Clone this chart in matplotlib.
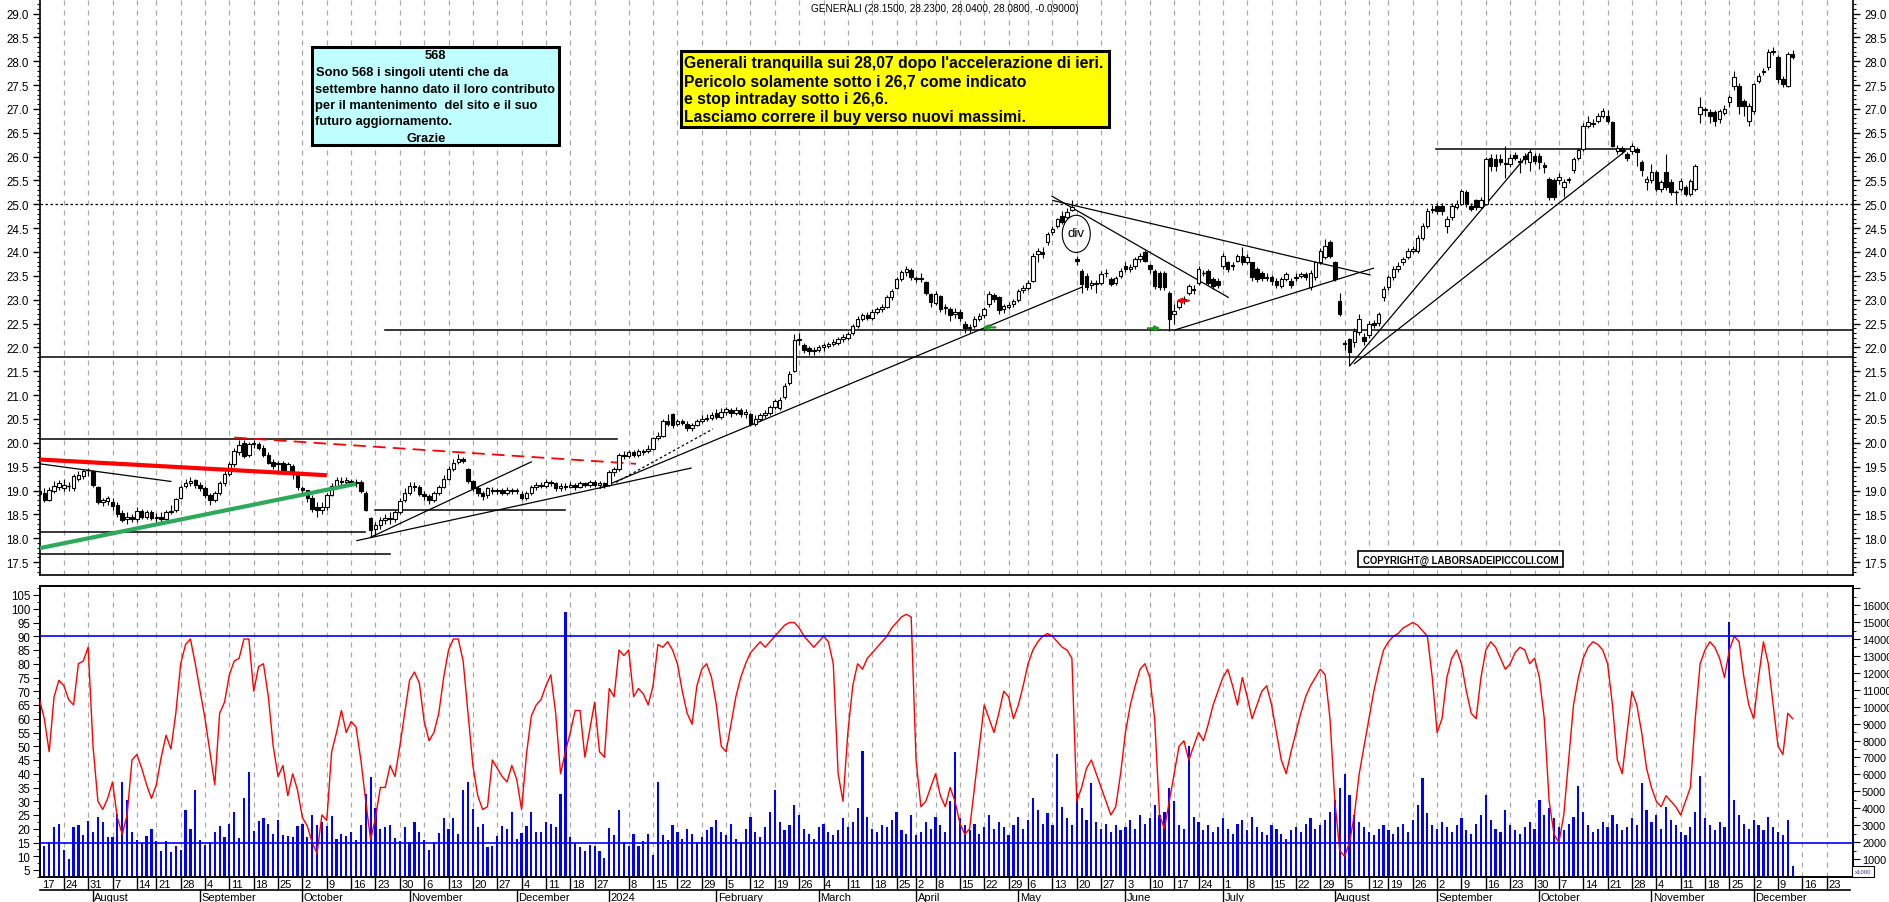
import numpy as np
import pandas as pd
import matplotlib
matplotlib.use("Agg")
import matplotlib.pyplot as plt
from matplotlib.patches import Rectangle, Ellipse
from matplotlib.transforms import blended_transform_factory
from matplotlib.ticker import MultipleLocator, FuncFormatter

plt.rcParams['font.family'] = ['Liberation Sans', 'DejaVu Sans']

# ---------------- data ----------------
holidays = ["2023-08-15", "2023-12-25", "2023-12-26", "2024-01-01", "2024-03-29",
            "2024-04-01", "2024-05-01", "2024-08-15"]
future_holidays = ["2024-12-24", "2024-12-25", "2024-12-26", "2024-12-31"]

opens = [
 19.00,18.95,18.80,19.00,19.08,19.05,19.10,19.05,19.25,19.30,
 19.42,19.40,19.07,18.75,18.78,18.75,18.70,18.52,18.40,18.45,
 18.40,18.58,18.45,18.55,18.42,18.45,18.40,18.55,18.60,18.85,
 19.10,19.15,19.22,19.12,19.05,18.90,18.80,18.95,19.15,19.35,
 19.55,19.80,20.00,19.75,19.98,19.98,19.90,19.75,19.60,19.55,
 19.58,19.40,19.52,19.35,19.05,19.00,18.85,18.65,18.60,18.65,
 18.90,19.10,19.20,19.18,19.20,19.15,19.18,18.95,18.42,18.20,
 18.28,18.38,18.42,18.40,18.55,18.80,18.95,19.10,19.08,18.92,
 18.88,18.80,18.95,19.08,19.25,19.45,19.60,19.65,19.45,19.20,
 19.05,18.95,18.90,19.02,18.98,19.00,18.95,19.02,18.98,18.92,
 18.85,18.95,19.08,19.12,19.10,19.18,19.15,19.05,19.10,19.08,
 19.12,19.08,19.15,19.12,19.18,19.12,19.15,19.12,19.38,19.45,
 19.75,19.72,19.80,19.75,19.82,19.82,19.88,20.10,20.15,20.45,
 20.60,20.40,20.45,20.40,20.30,20.38,20.45,20.50,20.52,20.62,
 20.55,20.65,20.68,20.62,20.68,20.60,20.60,20.40,20.50,20.58,
 20.62,20.75,20.72,20.95,21.25,21.50,22.15,22.05,21.98,21.92,
 21.95,22.00,22.02,22.08,22.10,22.18,22.20,22.30,22.45,22.60,
 22.68,22.62,22.75,22.80,22.85,23.05,23.25,23.43,23.58,23.62,
 23.45,23.43,23.38,23.12,22.94,23.08,22.82,22.80,22.70,22.75,
 22.50,22.40,22.45,22.60,22.68,22.90,23.10,23.05,22.80,22.85,
 22.90,23.00,23.20,23.25,23.40,23.95,24.00,24.20,24.42,24.55,
 24.76,24.73,24.88,23.85,23.61,23.50,23.30,23.33,23.36,23.55,
 23.43,23.35,23.50,23.71,23.64,23.71,23.85,23.99,23.72,23.61,
 23.57,23.57,23.15,22.70,22.85,22.98,23.15,23.20,23.36,23.57,
 23.61,23.43,23.40,23.71,23.78,23.70,23.82,23.92,23.80,23.78,
 23.64,23.55,23.45,23.47,23.40,23.29,23.43,23.40,23.45,23.50,
 23.54,23.26,23.47,23.78,23.89,24.20,23.78,22.98,22.10,22.18,
 22.11,22.32,22.21,22.25,22.52,22.52,23.05,23.26,23.47,23.64,
 23.78,23.89,24.03,24.03,24.30,24.55,24.88,24.97,24.97,24.55,
 24.73,24.95,25.01,25.25,24.97,25.08,24.95,25.01,25.98,25.95,
 25.95,25.86,25.84,26.03,25.88,26.02,25.88,26.02,26.02,25.82,
 25.53,25.50,25.50,25.36,25.50,25.71,25.98,26.16,26.65,26.68,
 26.75,26.86,26.86,26.72,26.12,26.19,26.05,26.12,26.16,25.89,
 25.46,25.50,25.67,25.32,25.67,25.47,25.25,25.32,25.36,25.22,
 25.32,26.89,26.98,26.94,26.93,26.79,26.92,27.14,27.49,27.49,
 27.17,26.75,26.96,27.59,27.77,27.87,28.19,28.08,27.63,27.49,
 28.15]

closes = [
 18.92,18.80,19.02,19.10,19.15,19.12,19.10,19.30,19.32,19.40,
 19.42,19.12,18.75,18.80,18.85,18.68,18.50,18.38,18.45,18.40,
 18.58,18.45,18.55,18.42,18.45,18.40,18.55,18.58,18.82,19.07,
 19.15,19.20,19.12,19.05,18.90,18.80,18.95,19.15,19.35,19.55,
 19.82,19.95,19.72,19.98,20.00,19.90,19.75,19.58,19.52,19.58,
 19.38,19.55,19.35,19.07,19.02,18.85,18.62,18.60,18.65,18.90,
 19.10,19.22,19.18,19.22,19.15,19.18,18.98,18.60,18.18,18.28,
 18.38,18.42,18.40,18.55,18.78,18.95,19.10,19.08,18.92,18.88,
 18.80,18.95,19.08,19.25,19.45,19.58,19.65,19.62,19.20,19.05,
 18.95,18.88,19.05,18.98,19.00,18.95,19.02,18.98,19.00,18.85,
 18.95,19.08,19.12,19.10,19.18,19.15,19.05,19.10,19.08,19.12,
 19.08,19.15,19.12,19.18,19.12,19.15,19.10,19.38,19.45,19.75,
 19.72,19.80,19.75,19.82,19.80,19.88,20.10,20.15,20.45,20.40,
 20.38,20.45,20.42,20.30,20.38,20.45,20.50,20.52,20.58,20.55,
 20.65,20.70,20.62,20.68,20.60,20.65,20.40,20.50,20.58,20.62,
 20.75,20.88,20.90,21.20,21.45,22.15,22.18,21.95,21.92,21.95,
 22.00,22.05,22.08,22.12,22.18,22.22,22.28,22.45,22.60,22.68,
 22.62,22.75,22.80,22.85,23.05,23.18,23.43,23.58,23.64,23.47,
 23.43,23.45,23.15,22.95,23.12,22.80,22.84,22.68,22.75,22.62,
 22.40,22.42,22.60,22.66,22.80,23.12,23.02,22.78,22.87,22.88,
 22.98,23.19,23.25,23.36,23.92,24.02,23.95,24.38,24.48,24.69,
 24.62,24.83,24.94,23.82,23.33,23.26,23.36,23.36,23.54,23.57,
 23.33,23.45,23.61,23.64,23.68,23.85,23.92,23.82,23.64,23.29,
 23.26,23.26,22.60,22.77,22.98,23.01,23.29,23.22,23.64,23.57,
 23.36,23.29,23.30,23.92,23.64,23.72,23.92,23.78,23.90,23.47,
 23.43,23.45,23.48,23.40,23.30,23.43,23.54,23.30,23.48,23.54,
 23.48,23.57,23.78,24.03,24.13,23.92,23.43,22.70,22.07,21.90,
 22.35,22.60,22.14,22.49,22.46,22.70,23.22,23.47,23.64,23.71,
 23.85,24.03,24.06,24.30,24.55,24.87,24.90,24.87,24.87,24.69,
 24.97,25.00,25.28,25.01,24.90,24.94,25.10,25.95,25.81,25.81,
 25.88,25.84,25.98,25.98,25.91,25.95,26.09,25.91,25.88,25.79,
 25.15,25.15,25.57,25.46,25.53,25.95,26.13,26.65,26.72,26.70,
 26.86,26.96,26.75,26.23,26.19,26.12,25.98,26.23,26.09,25.71,
 25.53,25.67,25.32,25.46,25.36,25.25,25.25,25.49,25.22,25.49,
 25.81,27.03,27.00,26.86,26.75,26.96,27.00,27.24,27.66,27.07,
 27.07,27.07,27.52,27.70,27.80,28.19,28.22,27.63,27.52,28.15,
 28.08]

highs = [
 19.05,19.05,19.08,19.20,19.22,19.25,19.18,19.35,19.40,19.45,
 19.48,19.42,19.10,18.85,18.88,18.85,18.75,18.60,18.55,18.50,
 18.65,18.62,18.60,18.60,18.52,18.55,18.60,18.70,18.85,19.12,
 19.25,19.28,19.25,19.18,19.10,18.95,19.00,19.20,19.40,19.60,
 19.90,20.05,20.05,20.02,20.06,20.02,19.95,19.80,19.65,19.62,
 19.62,19.60,19.55,19.40,19.10,19.02,18.90,18.75,18.75,18.95,
 19.15,19.28,19.28,19.28,19.25,19.25,19.22,18.98,18.45,18.35,
 18.45,18.50,18.55,18.60,18.85,19.05,19.18,19.18,19.12,18.98,
 18.92,19.00,19.12,19.32,19.52,19.65,19.77,19.70,19.48,19.22,
 19.10,19.00,19.08,19.08,19.05,19.05,19.08,19.05,19.05,18.98,
 19.00,19.12,19.18,19.18,19.25,19.22,19.18,19.15,19.15,19.18,
 19.15,19.20,19.18,19.22,19.22,19.20,19.18,19.42,19.50,19.78,
 19.82,19.85,19.85,19.88,19.88,19.95,20.12,20.22,20.50,20.60,
 20.62,20.50,20.50,20.45,20.42,20.50,20.58,20.60,20.65,20.70,
 20.72,20.75,20.72,20.75,20.72,20.70,20.62,20.58,20.62,20.68,
 20.80,20.92,20.95,21.25,21.50,22.28,22.30,22.10,22.02,22.00,
 22.05,22.10,22.12,22.18,22.22,22.28,22.32,22.50,22.65,22.72,
 22.75,22.80,22.85,22.92,23.10,23.22,23.48,23.62,23.70,23.66,
 23.50,23.55,23.40,23.15,23.18,23.10,22.92,22.85,22.82,22.80,
 22.55,22.50,22.65,22.72,22.85,23.18,23.15,23.08,22.92,22.95,
 23.02,23.22,23.30,23.42,23.98,24.08,24.10,24.42,24.55,24.72,
 24.85,24.92,25.10,23.92,23.65,23.55,23.42,23.42,23.60,23.65,
 23.48,23.50,23.66,23.78,23.75,23.90,23.98,24.05,23.75,23.65,
 23.60,23.60,23.18,22.90,23.02,23.08,23.32,23.30,23.70,23.62,
 23.65,23.48,23.45,23.98,23.82,23.78,23.96,24.10,23.95,23.80,
 23.68,23.60,23.55,23.52,23.45,23.48,23.58,23.45,23.55,23.58,
 23.58,23.62,23.82,24.08,24.28,24.25,23.82,23.15,22.15,22.20,
 22.40,22.70,22.30,22.55,22.58,22.75,23.28,23.52,23.70,23.78,
 23.90,24.08,24.12,24.35,24.60,24.92,24.98,25.02,25.02,24.75,
 25.02,25.08,25.32,25.30,25.02,25.12,25.15,26.00,26.05,26.05,
 26.05,26.22,26.05,26.10,25.98,26.08,26.15,26.08,26.08,25.88,
 25.58,25.55,25.65,25.52,25.58,26.00,26.18,26.70,26.85,26.78,
 26.92,27.02,26.98,26.75,26.25,26.22,26.10,26.28,26.20,25.92,
 25.60,25.85,25.72,25.50,26.05,25.52,25.30,25.55,25.40,25.52,
 25.85,27.25,27.05,27.00,26.98,27.00,27.08,27.30,27.80,27.55,
 27.20,27.12,27.55,27.75,27.85,28.25,28.30,28.12,27.68,28.20,
 28.23]

lows = [
 18.85,18.75,18.78,18.95,19.02,19.00,19.00,19.00,19.20,19.25,
 19.30,19.08,18.72,18.68,18.70,18.60,18.45,18.33,18.30,18.35,
 18.35,18.40,18.40,18.38,18.35,18.35,18.38,18.50,18.55,18.82,
 19.05,19.10,19.05,19.00,18.85,18.70,18.75,18.90,19.10,19.30,
 19.50,19.75,19.68,19.70,19.90,19.85,19.70,19.55,19.45,19.40,
 19.35,19.35,19.25,19.02,18.95,18.75,18.55,18.45,18.50,18.60,
 18.88,19.05,19.10,19.12,19.10,19.08,18.95,18.58,18.02,18.05,
 18.20,18.30,18.30,18.35,18.50,18.75,18.90,19.00,18.88,18.80,
 18.72,18.75,18.90,19.05,19.22,19.40,19.55,19.58,19.15,19.00,
 18.88,18.80,18.85,18.92,18.92,18.90,18.90,18.92,18.92,18.80,
 18.80,18.90,19.02,19.05,19.05,19.10,19.00,19.00,19.02,19.05,
 19.02,19.05,19.08,19.08,19.08,19.05,19.05,19.10,19.30,19.40,
 19.65,19.68,19.70,19.70,19.75,19.78,19.85,20.05,20.12,20.35,
 20.32,20.35,20.38,20.25,20.25,20.35,20.42,20.45,20.48,20.50,
 20.50,20.58,20.55,20.58,20.55,20.52,20.35,20.35,20.45,20.52,
 20.58,20.70,20.68,20.92,21.22,21.48,22.05,21.88,21.85,21.85,
 21.90,21.92,21.98,22.02,22.05,22.12,22.15,22.25,22.40,22.55,
 22.58,22.58,22.70,22.75,22.82,23.00,23.22,23.40,23.50,23.42,
 23.38,23.38,23.10,22.85,22.88,22.75,22.70,22.55,22.62,22.55,
 22.30,22.30,22.40,22.55,22.62,22.85,22.95,22.70,22.72,22.80,
 22.85,22.95,23.15,23.20,23.38,23.80,23.88,24.15,24.35,24.50,
 24.58,24.70,24.85,23.72,23.15,23.20,23.22,23.15,23.30,23.48,
 23.28,23.30,23.45,23.58,23.58,23.65,23.80,23.78,23.55,23.22,
 23.20,23.20,22.35,22.50,22.80,22.92,23.10,23.12,23.30,23.50,
 23.30,23.22,23.25,23.65,23.58,23.62,23.78,23.72,23.75,23.40,
 23.38,23.40,23.40,23.30,23.25,23.25,23.40,23.25,23.40,23.45,
 23.42,23.20,23.42,23.75,23.85,23.88,23.40,22.65,21.95,21.62,
 22.00,22.25,22.05,22.20,22.40,22.45,22.98,23.20,23.42,23.58,
 23.72,23.85,23.98,23.98,24.25,24.50,24.82,24.80,24.78,24.40,
 24.68,24.90,24.98,24.95,24.85,24.88,24.90,24.98,25.70,25.70,
 25.82,25.55,25.78,25.92,25.65,25.85,25.70,25.85,25.75,25.65,
 25.10,25.10,25.42,25.15,25.45,25.65,25.92,26.12,26.60,26.62,
 26.70,26.80,26.70,26.20,26.05,26.05,25.90,26.05,25.80,25.60,
 25.30,25.45,25.28,25.25,25.30,25.20,25.00,25.28,25.18,25.18,
 25.28,26.70,26.85,26.70,26.65,26.70,26.88,27.05,27.40,26.90,
 26.85,26.65,26.90,27.55,27.72,27.82,28.12,27.55,27.45,27.45,
 28.04]

oscillator = [
 67,60,48,68,74,72,67,65,80,81, 86,50,30,27,31,37,24,18,25,45,
 47,42,36,31,36,46,54,49,62,80, 87,89,80,70,60,48,36,62,66,76,
 81,82,89,89,70,79,80,68,50,39, 43,32,40,34,24,21,15,11,25,23,
 48,55,63,55,59,57,45,30,16,24, 35,35,43,39,50,62,74,77,73,59,
 52,55,62,75,85,89,89,81,62,43, 32,27,28,45,42,39,37,43,38,27,
 47,61,65,67,72,76,62,40,48,55, 63,63,46,56,66,48,46,71,68,85,
 83,85,68,71,69,65,72,87,86,88, 85,80,70,62,58,72,78,80,75,65,
 50,48,58,68,75,80,84,86,88,86, 88,90,92,94,95,95,93,90,88,86,
 88,90,88,80,40,30,55,72,80,78, 82,84,86,88,90,93,95,97,98,97,
 45,28,30,35,40,32,28,35,30,22, 18,20,35,50,65,60,55,62,70,68,
 60,65,72,80,85,88,90,91,90,88, 86,85,82,30,35,42,45,40,35,30,
 25,28,40,55,65,72,78,80,75,60, 25,20,30,40,50,52,45,50,55,52,
 58,65,70,75,78,72,65,75,68,60, 65,70,72,65,55,45,40,48,55,62,
 68,72,75,78,76,60,30,12,10,15, 25,40,50,60,70,78,85,88,90,91,
 93,94,95,94,92,90,75,55,60,75, 82,85,80,70,62,60,75,85,88,86,
 82,78,80,84,86,85,80,82,75,60, 30,18,15,25,45,65,75,82,86,88,
 87,85,80,65,45,40,55,70,65,55, 42,35,30,28,32,30,28,25,30,35,
 60,80,85,88,86,82,75,85,90,88, 75,65,60,75,88,80,65,50,47,62,
 60]

volume_k = [
 1.60,1.79,2.00,2.88,3.10,1.55,1.00,2.90,3.00,2.40, 3.26,2.57,3.46,3.17,2.32,2.30,3.66,5.57,4.49,2.57,
 2.12,1.92,2.38,2.77,2.04,1.49,2.04,1.43,1.79,1.55, 3.90,2.77,5.08,2.12,1.85,2.00,2.57,2.93,2.32,3.10,
 3.76,2.22,4.59,6.12,2.63,3.22,3.40,3.10,2.47,3.30, 2.40,2.38,2.30,2.93,3.06,2.30,3.60,3.00,3.17,2.93,
 3.56,2.20,2.47,2.34,2.57,2.12,3.00,4.84,5.83,4.00, 2.77,2.88,3.00,2.22,2.08,2.88,2.00,3.20,2.57,2.12,
 1.53,2.02,2.53,3.42,2.80,3.40,2.50,5.08,5.53,3.96, 2.92,3.10,1.69,1.79,2.34,2.93,2.77,3.76,2.20,2.53,
 2.93,3.80,2.57,2.57,3.17,3.10,2.88,4.82,15.57,2.32, 1.92,1.69,1.47,1.83,1.75,1.45,1.06,2.83,2.41,3.90,
 2.02,1.79,2.50,1.79,2.08,2.47,1.24,5.57,
 2.4,2.1,3.0,2.6,2.2,2.8,2.5,2.0,2.3,2.7, 2.9,3.3,2.6,2.4,3.1,2.2,2.0,2.8,3.5,2.6,
 2.3,2.9,3.8,5.1,3.2,2.7,3.0,4.2,3.6,2.8, 2.5,2.2,2.9,3.1,2.6,2.4,2.7,3.4,2.9,3.2,
 4.0,7.4,3.5,2.8,2.6,3.0,2.9,3.3,3.8,2.7, 2.5,3.6,2.4,2.6,3.2,2.8,3.5,3.0,2.6,4.4,
 7.3,3.4,3.0,2.7,3.1,2.5,2.9,3.6,2.8,3.2, 2.9,2.4,3.0,3.5,2.8,3.3,4.6,3.9,3.1,3.7,
 3.0,7.2,4.1,3.4,3.0,4.9,4.0,3.3,5.5,3.2, 2.8,3.1,2.6,3.0,2.7,2.9,3.3,2.8,3.6,3.1,
 3.4,4.2,3.6,3.8,5.2,4.4,3.0,2.8,7.7,3.5, 3.2,2.7,3.0,2.6,2.9,3.4,2.8,2.5,3.1,3.3,
 2.7,3.5,2.9,2.6,2.4,3.0,2.8,2.5,2.2,2.7, 2.9,2.6,3.1,3.4,2.8,3.0,3.3,3.8,4.5,5.2,
 6.0,4.8,3.6,3.2,2.9,2.6,2.4,2.8,3.0,2.7, 2.5,2.9,3.1,2.6,3.3,4.2,5.8,3.7,3.0,2.8,
 3.2,2.9,2.6,3.0,3.4,2.7,2.5,3.1,3.6,4.8, 3.3,2.8,2.6,3.9,3.0,2.7,2.5,2.9,3.2,2.8,
 4.5,3.6,4.0,3.4,2.9,2.7,3.1,3.5,5.3,3.8, 3.0,2.6,2.8,3.2,2.9,3.6,3.1,2.7,2.9,3.4,
 3.0,5.5,3.9,3.2,3.6,2.8,4.1,3.3,3.0,2.6, 2.4,2.9,3.8,5.9,3.4,3.0,2.7,3.2,2.9,15.0,
 4.5,3.6,3.1,2.8,3.3,3.0,2.7,3.5,2.9,2.6, 2.4,3.3,0.6]

month_names = ["January", "February", "March", "April", "May", "June", "July",
               "August", "September", "October", "November", "December"]

# horizontal levels and trend lines (index, price)
dotted_level = 25.0
full_levels = [21.80]
seg_levels = [(71.0, 373.0, 22.36), (0.0, 118.6, 20.09), (0.0, 66.9, 18.14),
              (0.0, 72.0, 17.66), (68.9, 107.9, 18.59), (286.7, 326.9, 26.16)]
thin_lines = [((0.0, 19.56), (27.0, 19.19)), ((65.2, 17.95), (133.8, 19.47)),
              ((68.0, 18.02), (101.0, 19.60)), ((115.1, 19.05), (214.0, 23.26)),
              ((207.9, 25.17), (244.1, 23.05)), ((208.1, 25.08), (273.2, 23.52)),
              ((233.3, 22.37), (273.9, 23.66)), ((269.1, 21.62), (306.0, 26.09)),
              ((270.0, 21.66), (325.7, 26.12))]
dashed_black = ((118.4, 19.17), (138.3, 20.29))
red_thick = ((0.0, 19.65), (59.0, 19.32))
green_thick = ((0.0, 17.79), (65.0, 19.14))
red_dashed = ((40.0, 20.11), (122.5, 19.56))

# ---------------- figure ----------------
W, H = 1890, 903
fig = plt.figure(figsize=(W / 100, H / 100), dpi=100)
fig.patch.set_facecolor("white")

def fx(x):
    return x / W

def fy(y):
    return 1 - y / H

n = min(len(opens), len(closes), len(highs), len(lows))
dates = pd.bdate_range("2023-07-17", "2024-12-12", freq="C", holidays=holidays)
allx = pd.bdate_range("2023-07-17", "2024-12-31", freq="C", holidays=holidays + future_holidays)
n = min(n, len(dates))
idx = np.arange(n)
o = np.array(opens[:n]); c = np.array(closes[:n]); hi = np.array(highs[:n]); lo = np.array(lows[:n])

L, R = 40, 1853
XMIN, XMAX = (L - 39.45) / 4.87, (R - 39.45) / 4.87

ax = fig.add_axes([fx(L), fy(576), fx(R - L), (576) / H])
axv = fig.add_axes([fx(L), fy(878), fx(R - L), (878 - 587) / H])
axo = axv.twinx()

ax.set_xlim(XMIN, XMAX)
ax.set_ylim(25 - (576 - 205.3) / 47.7, 25 + 205.3 / 47.7)
axv.set_xlim(XMIN, XMAX)
axv.set_ylim(-0.06, (877 - 587) / 16.93)
axo.set_ylim(105 - (878 - 596) / 2.75, 105 + 9 / 2.75)

# week ticks
tick_pos, tick_lab = [], []
month_pos, month_lab = [], []
for k in range(len(allx)):
    d = allx[k]
    if k == 0 or d.weekday() < allx[k - 1].weekday():
        if not (d.year == 2024 and d.month == 1 and d.day == 2):
            tick_pos.append(k); tick_lab.append(str(d.day))
    if k > 0 and d.month != allx[k - 1].month:
        month_pos.append(k)
        month_lab.append("2024" if (d.month == 1) else month_names[d.month - 1])

grid_kw = dict(color="#a8a8a8", lw=0.9, ls=(0, (4, 4)), zorder=0)
for a in (ax, axv):
    for t in tick_pos:
        if XMIN <= t <= XMAX - 4:
            a.axvline(t, **grid_kw)

# candles
up = c >= o
ax.vlines(idx, lo, hi, color="black", lw=0.8, zorder=2)
body_lo = np.minimum(o, c); body_h = np.abs(c - o)
ax.bar(idx[up], body_h[up], bottom=body_lo[up], width=0.72, color="white",
       edgecolor="black", linewidth=0.8, zorder=3)
ax.bar(idx[~up], body_h[~up], bottom=body_lo[~up], width=0.72, color="black",
       edgecolor="black", linewidth=0.8, zorder=3)
doji = body_h < 0.015
ax.hlines(c[doji], idx[doji] - 0.36, idx[doji] + 0.36, color="black", lw=1, zorder=3)

# levels and lines
ax.axhline(dotted_level, color="black", lw=0.9, ls=(0, (2, 2)), zorder=1)
for lv in full_levels:
    ax.axhline(lv, color="black", lw=1.1, zorder=1)
for x0, x1, lv in seg_levels:
    ax.plot([x0, x1], [lv, lv], color="black", lw=1.1, zorder=1)
for (a0, a1) in thin_lines:
    ax.plot([a0[0], a1[0]], [a0[1], a1[1]], color="black", lw=0.9, zorder=1)
ax.plot([dashed_black[0][0], dashed_black[1][0]], [dashed_black[0][1], dashed_black[1][1]],
        color="black", lw=0.9, ls=(0, (2, 2)), zorder=1)
ax.plot([red_thick[0][0], red_thick[1][0]], [red_thick[0][1], red_thick[1][1]],
        color="#ff0000", lw=3, zorder=4, solid_capstyle="butt")
ax.plot([green_thick[0][0], green_thick[1][0]], [green_thick[0][1], green_thick[1][1]],
        color="#2ea85a", lw=3, zorder=4, solid_capstyle="butt")
ax.plot([red_dashed[0][0], red_dashed[1][0]], [red_dashed[0][1], red_dashed[1][1]],
        color="#ff0000", lw=1.3, ls=(0, (7, 4)), zorder=1)

# arrows
def arrow(xh, xt, y, col):
    ax.annotate("", xy=(xh, y), xytext=(xt, y),
                arrowprops=dict(arrowstyle="-|>", color=col, lw=1.6, mutation_scale=7,
                                shrinkA=0, shrinkB=0), zorder=6)
arrow(193.6, 196.3, 22.42, "#1a9a1a")
arrow(230.2, 227.6, 22.40, "#1a9a1a")
arrow(233.4, 236.0, 22.98, "#ff0000")

# div ellipse
ax.add_patch(Ellipse((212.9, 24.38), 5.75, 0.78, fill=False, lw=0.8, ec="black", zorder=5))
ax.text(212.9, 24.40, "div", ha="center", va="center", fontsize=9.5, zorder=6)

# axis style
for a in (ax, axv, axo):
    for s in a.spines.values():
        s.set_linewidth(1.2)
ax.spines["top"].set_visible(False)
ax.yaxis.set_major_locator(MultipleLocator(0.5))
ax.yaxis.set_minor_locator(MultipleLocator(0.1))
ax.yaxis.set_major_formatter(FuncFormatter(lambda v, p: f"{v:.1f}"))
ax.tick_params(axis="y", which="both", left=True, right=True, labelleft=True, labelright=True,
               direction="out", labelsize=8.3, pad=3)
ax.tick_params(axis="y", which="major", length=5, width=1)
ax.tick_params(axis="y", which="minor", length=2.5, width=0.8)
ax.tick_params(axis="x", bottom=False, labelbottom=False)

# lower panel
axv.bar(idx[:len(volume_k)], volume_k[:n], width=0.45, color="#0000ff", zorder=2)
osc = oscillator[:n]
axo.plot(np.arange(len(osc)), osc, color="#ff0000", lw=1, zorder=3)
axo.axhline(90, color="#0000ff", lw=1.2, zorder=4)
axo.axhline(15, color="#0000ff", lw=1.2, zorder=4)
axo.set_xlim(XMIN, XMAX)

axv.yaxis.tick_right()
axv.yaxis.set_major_locator(MultipleLocator(1))
axv.yaxis.set_minor_locator(MultipleLocator(0.5))
axv.yaxis.set_major_formatter(FuncFormatter(
    lambda v, p: f"{int(round(v * 1000))}" if 0.5 <= v <= 16.5 else ""))
axv.tick_params(axis="y", which="both", direction="out", labelsize=7.8, left=False, right=True,
                labelleft=False, labelright=True, pad=1.5)
axv.tick_params(axis="y", which="major", length=5)
axv.tick_params(axis="y", which="minor", length=2.5)

axo.yaxis.tick_left()
axo.yaxis.set_label_position("left")
axo.yaxis.set_major_locator(MultipleLocator(5))
axo.yaxis.set_minor_locator(MultipleLocator(2.5))
axo.yaxis.set_major_formatter(FuncFormatter(lambda v, p: f"{int(v)}" if 5 <= v <= 105 else ""))
axo.tick_params(axis="y", which="both", direction="out", labelsize=8.3, left=True, right=False,
                labelleft=True, labelright=False, pad=2)
axo.tick_params(axis="y", which="major", length=5)
axo.tick_params(axis="y", which="minor", length=2.5)

vis_ticks = [t for t in tick_pos if XMIN <= t <= XMAX - 4]
axv.set_xticks(vis_ticks)
axv.set_xticklabels([])
axv.tick_params(axis="x", direction="out", length=9.5, width=1)
axo.tick_params(axis="x", bottom=False, labelbottom=False)

trans = blended_transform_factory(axv.transData, axv.transAxes)
for t, lab in zip(tick_pos, tick_lab):
    if -0.5 <= t <= XMAX - 4:
        axv.text(max(t, XMIN) + 0.35, -0.025, lab, transform=trans, ha="left", va="center",
                 fontsize=8)
for t, lab in zip(month_pos, month_lab):
    if XMIN <= t <= XMAX - 8:
        axv.text(t + 0.3, -0.069, lab, transform=trans, ha="left", va="center", fontsize=8)
        axv.plot([t, t], [-0.045, -0.09], transform=trans, color="black", lw=1, clip_on=False)
axv.plot([XMIN, XMAX - 0.7], [-0.045, -0.045], transform=trans, color="black", lw=1.2, clip_on=False)

# overlay for annotation boxes
ov = fig.add_axes([0, 0, 1, 1], zorder=20)
ov.set_xlim(0, W); ov.set_ylim(H, 0); ov.axis("off"); ov.patch.set_alpha(0)
renderer = fig.canvas.get_renderer()

def fit(t, width):
    bb = t.get_window_extent(renderer=renderer)
    t.set_fontsize(t.get_fontsize() * width / bb.width)

tt = ov.text(945, 8.5, "GENERALI (28.1500, 28.2300, 28.0400, 28.0800, -0.09000)",
             ha="center", va="center", fontsize=8)
fit(tt, 266)

ov.add_patch(Rectangle((681, 52), 428, 76, fc="#ffff00", ec="black", lw=2.2))
ylines = ["Generali tranquilla sui 28,07 dopo l'accelerazione di ieri.",
          "Pericolo solamente sotto i 26,7 come indicato",
          "e stop intraday sotto i 26,6.",
          "Lasciamo correre il buy verso nuovi massimi."]
t0 = ov.text(684, 63.5, ylines[0], ha="left", va="center", fontsize=10, fontweight="bold")
fit(t0, 421)
fs = t0.get_fontsize()
for k, s in enumerate(ylines[1:], start=1):
    ov.text(684, 63.5 + k * 18.1, s, ha="left", va="center", fontsize=fs, fontweight="bold")

ov.add_patch(Rectangle((312, 48), 247, 98, fc="#c0ffff", ec="black", lw=2.2))
narrow = ["Liberation Sans Narrow", "Liberation Sans", "DejaVu Sans"]
t1 = ov.text(315, 90, "settembre hanno dato il loro contributo", ha="left", va="center",
             fontsize=10, family=narrow, fontweight="bold")
fit(t1, 241)
fs1 = t1.get_fontsize()
ov.text(435, 56, "568", ha="center", va="center", fontsize=fs1, family=narrow, fontweight="bold")
ov.text(316, 73, "Sono 568 i singoli utenti che da", ha="left", va="center", fontsize=fs1,
        family=narrow, fontweight="bold")
ov.text(315, 106, "per il mantenimento  del sito e il suo", ha="left", va="center", fontsize=fs1,
        family=narrow, fontweight="bold")
ov.text(315, 122, "futuro aggiornamento.", ha="left", va="center", fontsize=fs1,
        family=narrow, fontweight="bold")
ov.text(426, 138.5, "Grazie", ha="center", va="center", fontsize=fs1, family=narrow, fontweight="bold")

ov.add_patch(Rectangle((1358, 552), 205, 16, fc="white", ec="black", lw=1.2))
t2 = ov.text(1461, 560.5, "COPYRIGHT@ LABORSADEIPICCOLI.COM", ha="center", va="center",
             fontsize=7, fontweight="bold")
fit(t2, 196)

ov.add_patch(Rectangle((1852, 867), 22, 11, fc="white", ec="black", lw=0.8))
ov.text(1863, 872.5, "x1000", ha="center", va="center", fontsize=4.3, color="#333399")

fig.savefig("out.png", dpi=100)
